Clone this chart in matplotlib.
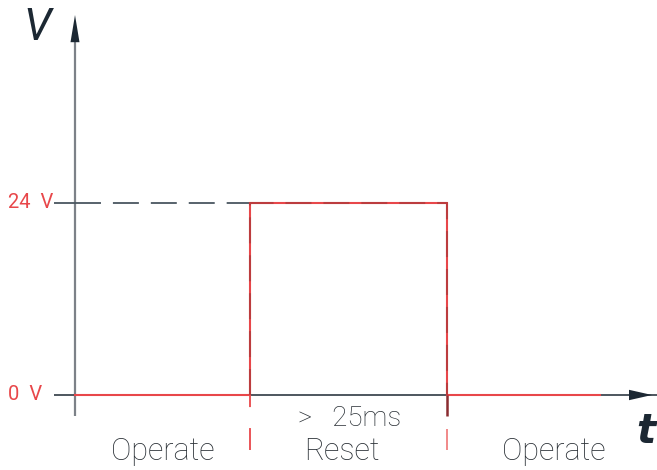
import matplotlib
matplotlib.use("Agg")
import matplotlib.pyplot as plt

plt.rcParams['lines.scale_dashes'] = False
plt.rcParams['font.family'] = ['Roboto', 'DejaVu Sans']

# ---- data ----
sig_t = [0, 35, 35, 74.4, 74.4, 105]      # time (arbitrary units)
sig_v = [0, 0, 24, 24, 0, 0]              # volts
level_v = [0, 24]
level_labels = ["0  V", "24  V"]
edge_t = [35, 74.4]
phase_t = [17.5, 53.3, 95.7]
phase_labels = ["Operate", "Reset", "Operate"]
dur_label = ">   25ms"
dur_t = 55.0

RED = "#e8474a"
DARK = "#1c2833"
GRAY = "#7c8188"
TXT = "#2a3036"

fig = plt.figure(figsize=(6.57, 4.70), dpi=100)
ax = fig.add_axes([0, 0, 1, 1])
ax.set_xlim(-15, 116.4)
ax.set_ylim(-9.375, 49.375)
ax.axis('off')

# y-axis
ax.plot([0, 0], [-2.6, 44.3], color=GRAY, lw=1.6, solid_capstyle='butt', zorder=2)
ax.fill([-0.9, 0.9, 0], [44.1, 44.1, 47.5], color=DARK, lw=0, zorder=3)
# x-axis
ax.plot([-4.2, 116.4], [0, 0], color=DARK, lw=1.1, solid_capstyle='butt', zorder=2)
ax.fill([110.8, 110.8, 115.4], [-0.65, 0.65, 0], color=DARK, lw=0, zorder=3)

# 24 V reference: tick + dashed line
ax.plot([-4.2, 0], [24, 24], color="#4a5660", lw=1.3, solid_capstyle='butt', zorder=2)
ax.plot([0, edge_t[0]], [24, 24], color="#4a5660", lw=1.3,
        dashes=(18.7, 8.6), solid_capstyle='butt', zorder=2)

# signal
ax.plot(sig_t, sig_v, color=RED, lw=1.5, solid_joinstyle='miter', zorder=4)
# dark dashed overlay on the pulse
ax.plot(sig_t[1:5], sig_v[1:5], color="#6a2a2a", lw=1.5, alpha=0.35,
        dashes=(18.7, 8.6), zorder=5)
# dark stub at the falling edge below the axis
ax.plot([edge_t[1], edge_t[1]], [0, -2.6], color="#8a2c30", lw=1.8, solid_capstyle='butt', zorder=4)

# dashed edge markers below the axis
ax.plot([edge_t[0], edge_t[0]], [-6.9, 0], color=RED, lw=1.3,
        dashes=(15.8, 15.1), zorder=4)
ax.plot([edge_t[1], edge_t[1]], [-6.9, -4.2], color="#f08080", lw=1.3,
        solid_capstyle='butt', zorder=4)

# level labels
for v, lab in zip(level_v, level_labels):
    ax.text(-13.3, v, lab, color=RED, fontsize=14.5, ha='left', va='center')

# axis names
ax.text(-7.6, 45.9, "V", color=DARK, fontsize=32, style='italic', fontweight='normal',
        ha='center', va='center')
ax.text(114.2, -4.6, "t", color=DARK, fontsize=29, style='italic', fontweight='bold',
        ha='center', va='center', family=['DejaVu Sans'])

# phase labels
for t, lab in zip(phase_t, phase_labels):
    ax.text(t, -7.1, lab, color=TXT, fontsize=22, fontweight='light',
            ha='center', va='center')
ax.text(dur_t, -2.9, dur_label, color=TXT, fontsize=20, fontweight='light',
        ha='center', va='center')

fig.savefig("out.png", dpi=100)
